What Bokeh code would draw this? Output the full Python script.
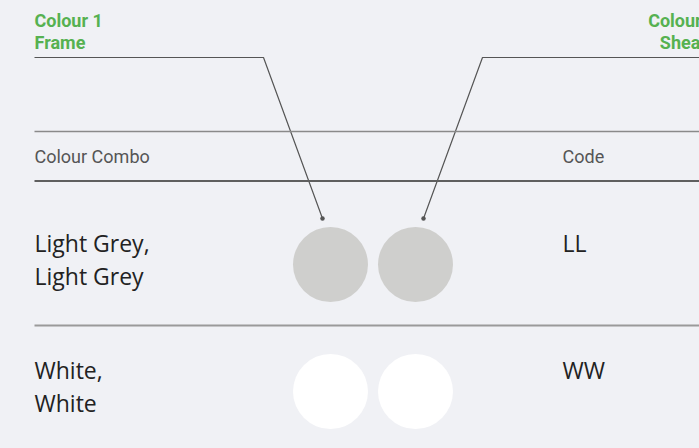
from bokeh.plotting import figure
from bokeh.models import Range1d, ColumnDataSource
from bokeh.core.properties import value
from bokeh.embed import file_html
from bokeh.resources import INLINE

# ---- data ----
combo_line1 = ["Light Grey,", "White,"]
combo_line2 = ["Light Grey", "White"]
codes = ["LL", "WW"]
colour1 = ["#cfcfcd", "#ffffff"]
colour2 = ["#cfcfcd", "#ffffff"]
header_labels = ["Colour Combo", "Code"]
left_callout = ["Colour 1", "Frame"]
right_callout = ["Colour 2", "Sheath"]

# ---- layout constants (screen-like coordinates, y downwards) ----
W, H = 699, 448
BG = "#f0f1f5"
GREEN = "#56b151"
LEFT = 34
CODE_X = 562
CIRC_X = [330, 415]
R = 37.5
ROW_TOP0 = 180.5
ROW_PITCH = 127

p = figure(width=W, height=H, output_backend="svg", toolbar_location=None,
           x_range=Range1d(0, W), y_range=Range1d(H, 0),
           background_fill_color=BG, border_fill_color=BG, min_border=0)
p.axis.visible = False
p.grid.visible = False
p.outline_line_color = None

# callout labels
p.text(x=[LEFT, LEFT], y=[19.5, 41.5], text=left_callout, text_color=GREEN,
       text_font=value("Roboto"), text_font_size="18px", text_font_style="bold",
       text_baseline="middle", text_align="left")
p.text(x=[716, 716], y=[19.5, 41.5], text=right_callout, text_color=GREEN,
       text_font=value("Roboto"), text_font_size="18px", text_font_style="bold",
       text_baseline="middle", text_align="right")

# leader lines
p.line(x=[LEFT, 263, CIRC_X[0] - 8], y=[57, 57, 218], line_color="#555555", line_width=1.2)
p.line(x=[W, 482, CIRC_X[1] + 8], y=[57, 57, 218], line_color="#555555", line_width=1.2)
p.scatter(x=[CIRC_X[0] - 8, CIRC_X[1] + 8], y=[218, 218], size=4.5,
          fill_color="#555555", line_color=None)

# header rules
p.segment(x0=[LEFT], y0=[131], x1=[W], y1=[131], line_color="#8a8a8a", line_width=1.5)
p.segment(x0=[LEFT], y0=[ROW_TOP0], x1=[W], y1=[ROW_TOP0], line_color="#5f5f5f", line_width=2.2)
p.text(x=[LEFT, CODE_X], y=[156, 156], text=header_labels, text_color="#555555",
       text_font=value("Roboto"), text_font_size="18px",
       text_baseline="middle", text_align="left")

# rows
n = len(codes)
row_top = [ROW_TOP0 + ROW_PITCH * i for i in range(n)]
centre = [t + 83.5 for t in row_top]
src = ColumnDataSource(dict(
    l1=combo_line1, l2=combo_line2, code=codes, c1=colour1, c2=colour2,
    yc=centre, y1=[t + 61.5 for t in row_top], y2=[t + 95 for t in row_top],
    x=[LEFT] * n, xc=[CODE_X] * n, cx1=[CIRC_X[0]] * n, cx2=[CIRC_X[1]] * n))

p.circle(x="cx1", y="yc", radius=R, fill_color="c1", line_color=None, source=src)
p.circle(x="cx2", y="yc", radius=R, fill_color="c2", line_color=None, source=src)
for col, ycol in (("l1", "y1"), ("l2", "y2")):
    p.text(x="x", y=ycol, text=col, source=src, text_color="#222222",
           text_font=value("Open Sans"), text_font_size="23px",
           text_baseline="middle", text_align="left")
p.text(x="xc", y="y1", text="code", source=src, text_color="#222222",
       text_font=value("Open Sans"), text_font_size="23px",
       text_baseline="middle", text_align="left")

# row separators
p.segment(x0=[LEFT] * (n - 1), y0=[t + 144.5 for t in row_top[:-1]],
          x1=[W] * (n - 1), y1=[t + 144.5 for t in row_top[:-1]],
          line_color="#9a9a9a", line_width=2)

html = file_html(p, INLINE)
html = html.replace("<head>", "<head><style>html,body{background:%s;}</style>" % BG, 1)
open("out.html", "w").write(html)
